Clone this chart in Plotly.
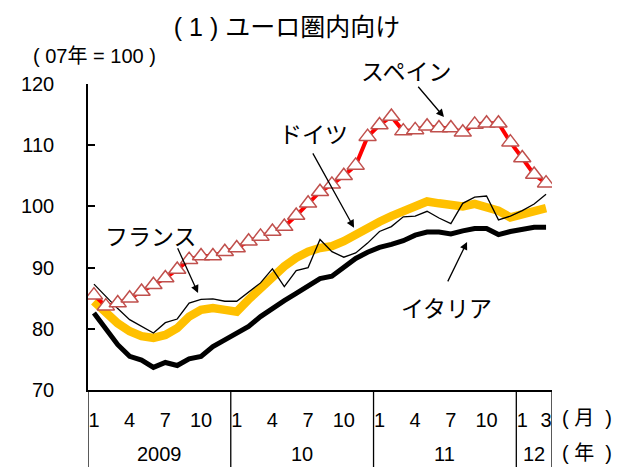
import plotly.graph_objects as go

months = list(range(39))  # Jan 2009 .. Mar 2012
month_tick_idx = [0, 3, 6, 9, 12, 15, 18, 21, 24, 27, 30, 33, 36, 38]
month_tick_text = ["1", "4", "7", "10", "1", "4", "7", "10", "1", "4", "7", "10", "1", "3"]
year_labels = ["2009", "10", "11", "12"]
year_centers = [5.5, 17.5, 29.5, 37.0]
year_bounds = [-0.5, 11.5, 23.5, 35.5, 38.5]

spain = [85.5, 83.7, 84.2, 85.0, 86.1, 87.2, 88.3, 89.7, 91.3, 91.9, 91.9, 92.6,
         93.2, 94.3, 95.1, 95.9, 96.7, 98.5, 100.5, 102.4, 103.6, 105.0, 106.7, 111.4,
         113.3, 114.7, 112.3, 112.5, 113.1, 112.8, 112.8, 112.1, 113.4, 113.6, 113.6, 110.5,
         107.9, 105.2, 103.8]
germany = [87.3, 85.3, 83.3, 81.5, 80.4, 79.3, 81.0, 81.6, 84.2, 84.8, 84.9, 84.5,
           84.5, 86.0, 87.5, 89.8, 86.9, 89.5, 90.0, 94.6, 92.6, 91.7, 92.4, 94.0,
           95.9, 96.7, 98.3, 98.4, 99.2, 98.1, 97.2, 100.5, 101.5, 101.7, 97.8, 98.4,
           99.3, 100.4, 102.0]
france = [84.5, 82.6, 80.9, 79.6, 78.8, 78.5, 79.0, 80.1, 82.0, 83.1, 83.4, 83.1,
          82.8, 84.8, 86.7, 88.6, 90.2, 91.6, 92.6, 93.2, 93.5, 94.3, 95.5, 96.5,
          97.5, 98.4, 99.2, 100.0, 100.8, 100.5, 100.3, 100.0, 100.4, 100.0, 99.3, 98.2,
          98.6, 99.1, 99.7]
italy = [82.6, 79.9, 77.4, 75.5, 74.9, 73.7, 74.5, 74.0, 75.1, 75.5, 77.1, 78.2,
         79.3, 80.4, 82.0, 83.4, 84.6, 85.8, 86.9, 88.2, 88.6, 90.0, 91.5, 92.5,
         93.3, 93.8, 94.4, 95.3, 95.8, 95.8, 95.5, 96.0, 96.4, 96.4, 95.4, 95.9,
         96.2, 96.6, 96.6]

FONT = "Liberation Sans, Arial, Noto Sans CJK JP, sans-serif"
JFONT = "Noto Sans CJK JP, sans-serif"
NB = "\u00a0"

fig = go.Figure()
fig.add_trace(go.Scatter(x=months, y=france, mode="lines",
                         line=dict(color="#FFC000", width=8.5), name="フランス"))
fig.add_trace(go.Scatter(x=months, y=italy, mode="lines",
                         line=dict(color="black", width=5), name="イタリア"))
fig.add_trace(go.Scatter(x=months, y=germany, mode="lines",
                         line=dict(color="black", width=1.3), name="ドイツ"))
fig.add_trace(go.Scatter(x=months, y=spain, mode="lines+markers",
                         line=dict(color="#FF0000", width=4),
                         marker=dict(symbol="triangle-up", size=15, color="white",
                                     line=dict(color="#C0504D", width=1.5)),
                         name="スペイン"))

# year divider lines below the axis
for b in year_bounds:
    fig.add_shape(type="line", xref="x", yref="paper", x0=b, x1=b, y0=0, y1=-0.26,
                  line=dict(color="black", width=1.3))

annotations = []
for lbl, c in zip(year_labels, year_centers):
    annotations.append(dict(x=c, y=-0.209, xref="x", yref="paper", text=lbl,
                            yanchor="middle", xanchor="center",
                            showarrow=False, font=dict(size=20, color="black")))

annotations += [
    dict(x=1.0, y=-0.092, xref="paper", yref="paper",
         text="(" + NB + "月" + NB + NB + ")", xanchor="left", xshift=8,
         yanchor="middle", showarrow=False, font=dict(size=20, color="black")),
    dict(x=1.0, y=-0.206, xref="paper", yref="paper",
         text="(" + NB + "年" + NB + NB + ")", xanchor="left", xshift=8,
         yanchor="middle", showarrow=False, font=dict(size=20, color="black")),
    dict(x=-0.1228, y=1.0915, xref="paper", yref="paper",
         text="(" + NB + "07年 = 100" + NB + ")",
         xanchor="left", yanchor="middle", showarrow=False,
         font=dict(size=20, color="black")),
    # series labels
    dict(x=0.685, y=1.046, xref="paper", yref="paper", text="スペイン", showarrow=False,
         xanchor="center", yanchor="middle", font=dict(size=23, color="black", family=JFONT)),
    dict(x=0.487, y=0.840, xref="paper", yref="paper", text="ドイツ", showarrow=False,
         xanchor="center", yanchor="middle", font=dict(size=23, color="black", family=JFONT)),
    dict(x=0.136, y=0.507, xref="paper", yref="paper", text="フランス", showarrow=False,
         xanchor="center", yanchor="middle", font=dict(size=23, color="black", family=JFONT)),
    dict(x=0.772, y=0.271, xref="paper", yref="paper", text="イタリア", showarrow=False,
         xanchor="center", yanchor="middle", font=dict(size=23, color="black", family=JFONT)),
]
# arrows (tail -> head)
arrows = [((27.15, 119.8), (29.42, 114.6)),
          ((18.33, 108.9), (21.86, 96.5)),
          ((6.98, 93.4), (8.75, 85.85)),
          ((29.68, 87.5), (31.36, 94.2))]
for (tx, ty), (hx, hy) in arrows:
    annotations.append(dict(x=hx, y=hy, ax=tx, ay=ty, xref="x", yref="y",
                            axref="x", ayref="y", text="", showarrow=True,
                            arrowhead=2, arrowsize=1.2, arrowwidth=1.3,
                            arrowcolor="black", standoff=0, startstandoff=0))

# the page body adds an 8px margin, so the figure is 8px smaller than the window
fig.update_layout(
    width=633, height=459,
    margin=dict(l=80, r=89, t=76, b=77, autoexpand=False),
    paper_bgcolor="white", plot_bgcolor="white",
    showlegend=False,
    font=dict(family=FONT, size=20, color="black"),
    title=dict(text="(" + NB + "1" + NB + ")" + NB + "ユーロ圏内向け",
               x=0.262, xanchor="left", y=0.9586, yanchor="middle",
               font=dict(size=25, color="black", family=FONT)),
    annotations=annotations,
    xaxis=dict(range=[-0.5, 38.5], showgrid=False, zeroline=False, automargin=False,
               showline=True, linecolor="black", linewidth=1.5,
               tickmode="array", tickvals=month_tick_idx, ticktext=month_tick_text,
               ticks="", ticklabelstandoff=11, tickfont=dict(size=20)),
    yaxis=dict(range=[70, 120], dtick=10, showgrid=False, zeroline=False, automargin=False,
               showline=True, linecolor="black", linewidth=1.5,
               ticks="inside", ticklen=7, tickcolor="black", tickwidth=1.5,
               ticklabelstandoff=28, tickfont=dict(size=20)),
)

fig.write_html("out.html")
